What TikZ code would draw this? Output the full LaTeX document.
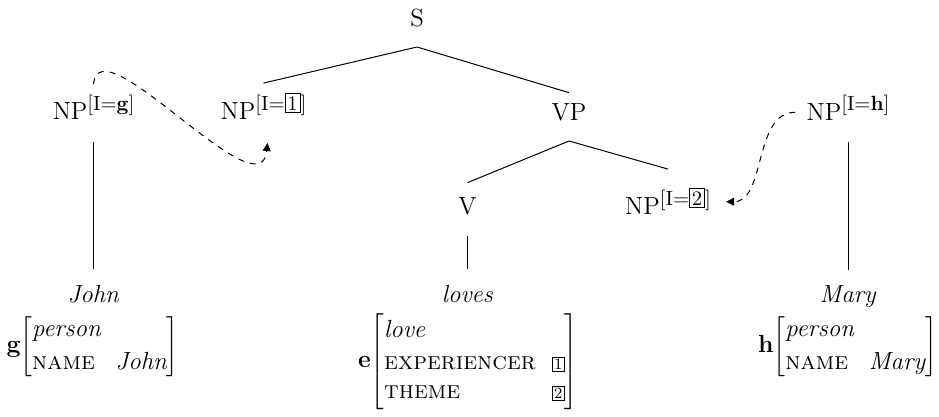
\documentclass[tikz,border=0pt]{standalone}
\usepackage{fontspec}
\usetikzlibrary{arrows.meta}
\newcommand{\supbox}[1]{{\setlength{\fboxsep}{1pt}\setlength{\fboxrule}{0.4pt}\fbox{#1}}}
\newcommand{\avmbox}[1]{{\fontsize{7.8}{8}\selectfont\setlength{\fboxsep}{0.7pt}\setlength{\fboxrule}{0.4pt}\fbox{#1}}}
\newcommand{\npsup}[1]{NP\raisebox{5pt}{\fontsize{10.3}{12}\selectfont[I=#1]}}
\renewcommand{\arraystretch}{1.1}
\begin{document}
\begin{tikzpicture}[x=0.5pt,y=-0.5pt,
  every node/.style={inner sep=0pt,font=\fontsize{12.4}{15}\selectfont},
  lbl/.style={anchor=base},
  avm/.style={anchor=north},
  branch/.style={line width=0.5pt},
  coref/.style={dashed,line width=0.5pt,-{Triangle[length=4pt,width=4pt]}}]
\useasboundingbox (0,0) rectangle (939,417);
% tree labels
\node[lbl] (s) at (417,27) {S};
\node[lbl] (npg) at (93.5,120) {\npsup{\textbf{g}}};
\node[lbl] (np1) at (263.5,120) {\npsup{\supbox{1}}};
\node[lbl] (vp) at (569,121) {VP};
\node[lbl] (nph) at (848,121) {\npsup{\textbf{h}}};
\node[lbl] (v) at (467.5,215) {V};
\node[lbl] (np2) at (668,215) {\npsup{\supbox{2}}};
\node[lbl] (john) at (93.5,303) {\textit{John}};
\node[lbl] (loves) at (467.5,303) {\textit{loves}};
\node[lbl] (mary) at (848,303) {\textit{Mary}};
% AVMs
\node[avm] (avmg) at (92.5,313) {\textbf{g}$\left[\begin{array}{@{}l@{\hspace{7.5pt}}l@{}}\textit{person} & \\ \textsc{name} & \textit{John}\end{array}\right]$};
\node[avm] (avme) at (468,313) {\textbf{e}$\left[\begin{array}{@{}l@{\hspace{8pt}}l@{}}\textit{love} & \\ \textsc{experiencer} & \avmbox{1}\\[-2pt] \textsc{theme} & \avmbox{2}\end{array}\right]$};
\node[avm] (avmh) at (847.5,313) {\textbf{h}$\left[\begin{array}{@{}l@{\hspace{7.5pt}}l@{}}\textit{person} & \\ \textsc{name} & \textit{Mary}\end{array}\right]$};
% branches
\draw[branch] ([yshift=-10pt]s.base) -- ([yshift=5pt]np1.north);
\draw[branch] ([yshift=-10pt]s.base) -- ([yshift=5.5pt]vp.north);
\draw[branch] ([yshift=-10pt]vp.base) -- ([yshift=7.5pt]v.north);
\draw[branch] ([yshift=-10pt]vp.base) -- ([yshift=9.5pt]np2.north);
\draw[branch] ([yshift=-11pt]npg.base) -- ([yshift=8pt]john.north);
\draw[branch] ([yshift=-10.5pt]v.base) -- ([yshift=8pt]loves.north);
\draw[branch] ([yshift=-10.5pt]nph.base) -- ([yshift=8pt]mary.north);
% coreference arrows
\draw[coref] ([yshift=5pt]npg.north) .. controls +(6,-63) and +(-7,72) .. ([xshift=2pt,yshift=-11.5pt]np1.base);
\draw[coref] ([xshift=-5.5pt,yshift=-2pt]nph.west) .. controls +(-42,0) and +(40,0) .. ([xshift=7.5pt]np2.east);
\end{tikzpicture}
\end{document}
